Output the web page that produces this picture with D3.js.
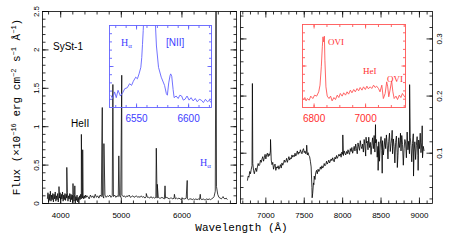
<!DOCTYPE html>
<html><head><meta charset="utf-8">
<script src="https://cdn.jsdelivr.net/npm/d3@7/dist/d3.min.js"></script>
<style>html,body{margin:0;padding:0;background:#fff;}svg{display:block}</style>
</head><body>
<svg id="chart" width="450" height="244"></svg>
<script>
// ================= DATA =================
// Left panel (blue arm) continuum, flux in 1e-16 erg/cm2/s/A
const leftBlueStart = 3780, leftBlueStep = 10;
const leftBlueFlux = [
 0.06,0.14,0.02,0.12,0.04,0.16,0.03,0.11,0.05,0.13,
 0.02,0.12,0.06,0.15,0.03,0.10,0.05,0.13,0.02,0.11,
 0.07,0.14,0.04,0.12,0.06,0.15,0.03,0.11,0.05,0.13,
 0.04,0.12,0.07,0.14,0.03,0.10,0.06,0.13,0.02,0.12,
 0.05,0.11,0.01,0.10,0.03,0.12,0.00,0.09,0.04,0.11,
 0.02,0.08,0.00,0.10,0.05,0.12,0.06,0.10,0.07,0.11,
 0.06,0.10,0.07,0.11,0.08,0.10];
const leftRedStart = 4450, leftRedStep = 20;
const leftRedFlux = [
 0.09,0.06,0.11,0.08,0.10,0.07,0.12,0.08,0.10,0.07,
 0.11,0.09,0.10,0.07,0.11,0.08,0.10,0.09,0.11,0.08,
 0.10,0.09,0.11,0.08,0.10,0.09,0.10,0.08,0.11,0.09,
 0.10,0.08,0.10,0.09,0.11,0.08,0.09,0.10,0.08,0.09,
 0.10,0.08,0.09,0.08,0.10,0.08,0.09,0.07,0.09,0.08,
 0.08,0.07,0.09,0.07,0.08,0.07,0.08,0.07,0.08,0.07,
 0.07,0.08,0.07,0.06,0.07,0.08,0.07,0.06,0.07,0.07,
 0.06,0.07,0.06,0.07,0.06,0.07,0.06,0.05,0.07,0.06,
 0.06,0.07,0.06,0.05,0.06,0.06,0.05,0.06,0.05,0.06,
 0.05,0.06,0.05,0.06,0.05,0.06,0.05,0.05,0.06,0.05,
 0.06,0.05,0.06,0.07,0.09,0.16,0.22,0.12,0.08,0.07,
 0.06,0.08,0.07,0.06,0.07,0.05];
// emission lines [wavelength, peak flux]
const leftLines = [[3972,0.22],[4101,0.47],[4203,0.26],[4233,0.23],[4341,0.90],[4363,0.70],
 [4686,1.25],[4713,0.78],[4861,1.55],[4959,0.62],[5007,1.67],[5412,0.13],[5577,0.72],
 [5593,0.25],[5721,0.23],[5876,0.12],[6087,0.30],[6302,0.12],[6563,3.0],[6678,0.09]];

// Right panel (red arm)
const rightStart = 6760, rightStep = 10;
const rightFlux = [
 0.052,0.060,0.058,0.068,0.064,0.072,0.078,0.082,0.070,0.064,
 0.070,0.074,0.068,0.076,0.082,0.078,0.080,0.088,0.084,0.090,
 0.094,0.086,0.092,0.098,0.090,0.097,0.100,0.094,0.099,0.096,
 0.104,0.088,0.080,0.084,0.072,0.078,0.081,0.070,0.076,0.074,
 0.078,0.072,0.076,0.080,0.074,0.083,0.079,0.082,0.088,0.084,
 0.086,0.091,0.084,0.089,0.094,0.088,0.092,0.090,0.097,0.093,
 0.096,0.094,0.100,0.095,0.099,0.104,0.098,0.102,0.100,0.106,
 0.102,0.099,0.105,0.108,0.101,0.104,0.099,0.103,0.097,0.101,
 0.096,0.094,0.086,0.076,0.040,0.030,0.048,0.060,0.054,0.066,
 0.070,0.064,0.072,0.068,0.070,0.076,0.072,0.078,0.074,0.076,
 0.082,0.078,0.080,0.086,0.081,0.084,0.088,0.083,0.086,0.090,
 0.087,0.092,0.088,0.085,0.093,0.090,0.096,0.091,0.094,0.098,
 0.095,0.099,0.093,0.102,0.098,0.096,0.104,0.100,0.097,0.103,
 0.099,0.106,0.101,0.098,0.108,0.103,0.110,0.100,0.106,0.112,
 0.104,0.116,0.108,0.099,0.118,0.111,0.105,0.122,0.112,0.108,
 0.116,0.102,0.124,0.113,0.095,0.118,0.121,0.106,0.128,0.110,
 0.119,0.098,0.114,0.127,0.108,0.131,0.102,0.118,0.124,0.093,
 0.112,0.120,0.086,0.116,0.129,0.105,0.122,0.097,0.110,0.126,
 0.108,0.132,0.114,0.090,0.121,0.135,0.103,0.117,0.128,0.099,
 0.125,0.112,0.083,0.119,0.130,0.101,0.096,0.127,0.110,0.122,
 0.104,0.131,0.115,0.079,0.108,0.124,0.118,0.092,0.137,0.106,
 0.121,0.099,0.128,0.113,0.085,0.117,0.134,0.102,0.120,0.089,
 0.114,0.129,0.096,0.123,0.108,0.135,0.101,0.118,0.092,0.112,
 0.104];
const rightLines = [[6825,0.222],[7061,0.124],[7532,0.114],[7603,0.022],[7625,0.045],[8002,0.132],
 [8305,0.128],[8428,0.150],[8462,0.070],[8515,0.065],[8645,0.140],[8712,0.075],[8753,0.135],
 [8872,0.220],[8923,0.060],[8983,0.070],[9036,0.148]];

// Inset: H-alpha region (blue)
const haWave = [6525.3,6526.9,6528.9,6530.5,6532.2,6534.5,6536.7,6538.7,6541,6543.3,6545.2,6546.9,
 6549.2,6550.8,6552.4,6554.1,6555,6555.7,6556.4,6557.3,6563,6567.8,6569.1,6571.1,6573.7,6576.9,
 6578.6,6579.6,6580.9,6582.2,6582.8,6583.8,6585.1,6586.1,6588,6590,6591.6,6593.3,6594.9,6596.5,
 6598.5,6600.5,6602.4,6604.4,6606.4,6608.3,6610.3,6612.2,6614.2,6616.2,6618.1,6620.1,6621.4];
const haFlux = [0.15,0.11,0.19,0.12,0.21,0.14,0.18,0.23,0.24,0.29,0.27,0.32,
 0.37,0.35,0.41,0.49,0.61,0.77,0.94,1.2,6.0,1.1,0.75,0.49,0.37,0.27,
 0.17,0.15,0.30,0.39,0.41,0.38,0.22,0.12,0.14,0.11,0.15,0.14,0.09,0.10,
 0.14,0.09,0.12,0.08,0.11,0.07,0.10,0.09,0.06,0.10,0.07,0.09,0.06];

// Inset: Raman O VI region (red)
const ovWave = [6758.8,6764,6769,6774,6781,6787,6795,6802,6810,6818,6823,6828,6832,6834.5,6837,6840,
 6842,6846,6851,6858,6864,6870,6877,6883,6890,6896,6902,6909,6915,6922,6928,6934,6941,6947,6954,
 6960,6967,6973,6979,6986,6992,6999,7005,7011,7018,7024,7031,7037,7043,7050,7056,7063,7069,7076,
 7082,7086,7090,7095,7101,7106,7111,7118,7124,7131,7137,7143,7150,7154];
const ovFlux = [0.096,0.12,0.08,0.108,0.088,0.137,0.108,0.149,0.137,0.189,0.269,0.49,0.731,0.851,0.791,0.859,
 0.57,0.249,0.137,0.108,0.137,0.08,0.12,0.096,0.149,0.12,0.169,0.137,0.177,0.149,0.189,0.161,0.209,0.177,0.217,
 0.189,0.229,0.201,0.241,0.209,0.249,0.217,0.257,0.225,0.249,0.229,0.269,0.241,0.257,0.229,0.189,0.269,0.108,0.169,
 0.309,0.249,0.129,0.209,0.321,0.189,0.108,0.137,0.096,0.149,0.12,0.169,0.137,0.12];

// tick values / labels
const leftXTicks = [4000,5000,6000];
const leftYTicks = [0,0.5,1,1.5,2,2.5];
const rightXTicks = [7000,7500,8000,8500,9000];
const rightYTicks = [0.1,0.2,0.3];
const haXTicks = [6550,6600];
const ovXTicks = [6800,7000];

// ================= DRAWING =================
const SANS='"Liberation Sans", Arial, sans-serif';
const SERIF='"Liberation Serif", "Times New Roman", serif';
const MONO='"Liberation Mono", "Courier New", monospace';
const BLUE='#6262ff', BLUE_T='#3c3cff', RED='#ff5555', RED_T='#ff2e2e';

const svg = d3.select('#chart');
const defs = svg.append('defs');

const xL = d3.scaleLinear().domain([3700,6900]).range([42.5,236.5]);
const yL = d3.scaleLinear().domain([0,2.5]).range([203.5,11.5]);
const xR = d3.scaleLinear().domain([6670,9170]).range([240.5,432.5]);
const yR = d3.scaleLinear().domain([0.012,0.348]).range([203.5,11.5]);
const xB = d3.scaleLinear().domain([6524,6622]).range([109.5,211.5]);
const yB = d3.scaleLinear().domain([0,1]).range([107.5,25.5]);
const xO = d3.scaleLinear().domain([6755,7155]).range([302.5,405.5]);
const yO = d3.scaleLinear().domain([0,1]).range([107.5,24.5]);

function inDom(s, vals){ const [a,b]=s.domain(); return vals.filter(v=>v>=Math.min(a,b)-1e-9 && v<=Math.max(a,b)+1e-9); }
function clip(id,x,y){
  const [a,b]=x.range(), [c,d]=y.range();
  defs.append('clipPath').attr('id',id).append('rect').attr('x',a).attr('y',d).attr('width',b-a).attr('height',c-d);
}
function frame(x,y,o){
  const g = svg.append('g');
  const [x0,x1]=x.range(), [y0,y1]=y.range();
  const tk=(axis,vals,len,tr)=>{
    const a=g.append('g').attr('transform',tr)
      .call(axis.offset(0).tickValues(inDom(axis.scale(),vals)).tickSize(-len).tickFormat(()=>''));
    a.select('.domain').remove(); a.selectAll('text').remove();
    a.selectAll('line').attr('stroke',o.color).attr('stroke-width',o.sw);
  };
  [[o.xMinor,o.minor],[o.xMajor,o.major]].forEach(([v,l])=>{
    tk(d3.axisBottom(x),v,l,`translate(0,${y0})`);
    tk(d3.axisTop(x),v,l,`translate(0,${y1})`);
  });
  [[o.yMinor,o.minor],[o.yMajor,o.major]].forEach(([v,l])=>{
    tk(d3.axisLeft(y),v,l,`translate(${x0},0)`);
    tk(d3.axisRight(y),v,l,`translate(${x1},0)`);
  });
  g.append('rect').attr('x',x0).attr('y',y1).attr('width',x1-x0).attr('height',y0-y1)
    .attr('fill','none').attr('stroke',o.color).attr('stroke-width',o.sw);
}
function buildSpectrum(segs, lines){
  const pts=[];
  segs.forEach(s=>s.flux.forEach((f,i)=>pts.push([s.start+i*s.step,f])));
  lines.forEach(l=>pts.push(l));
  return pts.sort((a,b)=>a[0]-b[0]);
}
function curve(pts,x,y,color,w,clipId){
  svg.append('path').datum(pts).attr('clip-path',`url(#${clipId})`)
    .attr('d',d3.line().x(d=>x(d[0])).y(d=>y(d[1])))
    .attr('fill','none').attr('stroke',color).attr('stroke-width',w).attr('stroke-linejoin','round');
}
function xLabels(x,y,vals,size,color,pad){
  const a=svg.append('g').attr('transform',`translate(0,${y.range()[0]})`)
    .call(d3.axisBottom(x).offset(0).tickValues(vals).tickSize(0).tickPadding(pad).tickFormat(d3.format('d')));
  a.select('.domain').remove();
  a.selectAll('text').attr('font-family',SANS).attr('font-size',size).attr('fill',color);
}
function yLabels(axis,xpos,vals,dx){
  const a=svg.append('g').attr('transform',`translate(${xpos},0)`)
    .call(axis.offset(0).tickValues(vals).tickSize(0).tickFormat(d3.format('~g')));
  a.select('.domain').remove();
  a.selectAll('text').attr('x',null).attr('dy',null).attr('text-anchor','middle')
    .attr('transform',`translate(${dx},0) rotate(-90)`)
    .attr('font-family',SANS).attr('font-size',8).attr('fill','#000');
}

clip('cL',xL,yL); clip('cR',xR,yR); clip('cB',xB,yB); clip('cO',xO,yO);

// spectra
const leftSpec = buildSpectrum([{start:leftBlueStart,step:leftBlueStep,flux:leftBlueFlux},
                                {start:leftRedStart,step:leftRedStep,flux:leftRedFlux}], leftLines);
const rightSpec = buildSpectrum([{start:rightStart,step:rightStep,flux:rightFlux}], rightLines);
curve(leftSpec,xL,yL,'#000',0.75,'cL');
curve(rightSpec,xR,yR,'#000',0.8,'cR');
curve(haWave.map((w,i)=>[w,haFlux[i]]),xB,yB,BLUE,0.9,'cB');
curve(ovWave.map((w,i)=>[w,ovFlux[i]]),xO,yO,RED,0.9,'cO');

// frames
frame(xL,yL,{color:'#000',sw:0.8,major:6,minor:3,xMajor:leftXTicks,xMinor:d3.range(3600,7000,200),
  yMajor:leftYTicks,yMinor:d3.range(0,2.55,0.1)});
frame(xR,yR,{color:'#000',sw:0.8,major:6,minor:3,xMajor:rightXTicks,xMinor:d3.range(6700,9200,100),
  yMajor:rightYTicks,yMinor:d3.range(0.02,0.35,0.02)});
frame(xB,yB,{color:BLUE,sw:0.9,major:4,minor:2.5,xMajor:haXTicks,xMinor:d3.range(6530,6625,10),
  yMajor:[0.5],yMinor:d3.range(0.1,1,0.1)});
frame(xO,yO,{color:RED,sw:0.9,major:4,minor:2.5,xMajor:ovXTicks,xMinor:d3.range(6800,7160,50),
  yMajor:[0.5],yMinor:d3.range(0.1,1,0.1)});

// tick labels
xLabels(xL,yL,leftXTicks,8,'#000',9);
xLabels(xR,yR,rightXTicks,8,'#000',9);
xLabels(xB,yB,haXTicks,10,BLUE_T,7);
xLabels(xO,yO,ovXTicks,10,RED_T,7);
yLabels(d3.axisLeft(yL),xL.range()[0],leftYTicks,-4);
yLabels(d3.axisRight(yR),xR.range()[1],rightYTicks,9.5);

// axis titles
svg.append('text').attr('x',241.5).attr('y',231).attr('text-anchor','middle')
  .attr('font-family',MONO).attr('font-size',11).text('Wavelength (Å)');
const yt = svg.append('text').attr('transform','translate(20,107) rotate(-90)').attr('text-anchor','middle')
  .attr('font-family',MONO).attr('font-size',11);
const parts=[['Flux (×10',0],['−16',1],[' erg cm',0],['−2',1],[' s',0],['−1',1],[' Å',0],['−1',1],[')',0]];
let prev=0;
parts.forEach(([t,s])=>{
  const dy = s? -4 : (prev? 4:0);
  yt.append('tspan').attr('dy',dy).attr('font-size',s?7:11).text(t);
  prev=s;
});

// annotations
function note(x,y,txt,font,size,color,sub){
  const t=svg.append('text').attr('x',x).attr('y',y).attr('font-family',font).attr('font-size',size).attr('fill',color).text(txt);
  if(sub) t.append('tspan').attr('dy',2).attr('font-size',size*0.7).text(sub);
}
note(53,50,'SySt-1',SANS,10,'#000');
note(71,127,'HeII',SANS,10,'#000');
note(200,166,'H',SERIF,10,BLUE_T,'α');
note(121,46,'H',SERIF,10,BLUE_T,'α');
note(166,46,'[NII]',SANS,10,BLUE_T);
note(328,45,'OVI',SERIF,9,RED_T);
note(363,74,'HeI',SERIF,9,RED_T);
note(387,82,'OVI',SERIF,9,RED_T);
</script>
</body></html>
